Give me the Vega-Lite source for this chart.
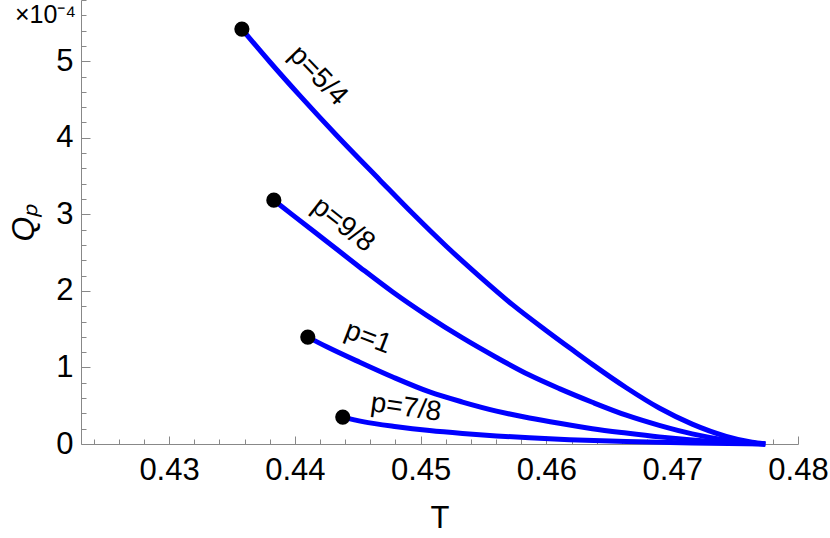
{
  "$schema": "https://vega.github.io/schema/vega-lite/v6.json",
  "width": 717,
  "height": 444,
  "autosize": "none",
  "padding": {"left": 81, "top": 0, "right": 32, "bottom": 94},
  "background": "white",
  "config": {"view": {"stroke": null}, "font": "Liberation Sans"},
  "datasets": {
    "curves": [
      {"p": "5/4", "T": 0.43579, "Q": 5.42},
      {"p": "5/4", "T": 0.43802, "Q": 4.99},
      {"p": "5/4", "T": 0.4404, "Q": 4.55},
      {"p": "5/4", "T": 0.44333, "Q": 4.03},
      {"p": "5/4", "T": 0.44675, "Q": 3.45},
      {"p": "5/4", "T": 0.44937, "Q": 3.01},
      {"p": "5/4", "T": 0.45206, "Q": 2.58},
      {"p": "5/4", "T": 0.45468, "Q": 2.19},
      {"p": "5/4", "T": 0.4573, "Q": 1.82},
      {"p": "5/4", "T": 0.46, "Q": 1.48},
      {"p": "5/4", "T": 0.46206, "Q": 1.23},
      {"p": "5/4", "T": 0.46365, "Q": 1.04},
      {"p": "5/4", "T": 0.46635, "Q": 0.735},
      {"p": "5/4", "T": 0.46897, "Q": 0.47},
      {"p": "5/4", "T": 0.47159, "Q": 0.26},
      {"p": "5/4", "T": 0.47429, "Q": 0.10},
      {"p": "5/4", "T": 0.47635, "Q": 0.022},
      {"p": "5/4", "T": 0.4774, "Q": 0},
      {"p": "9/8", "T": 0.43833, "Q": 3.185},
      {"p": "9/8", "T": 0.43984, "Q": 2.99},
      {"p": "9/8", "T": 0.44254, "Q": 2.645},
      {"p": "9/8", "T": 0.44516, "Q": 2.31},
      {"p": "9/8", "T": 0.44778, "Q": 1.985},
      {"p": "9/8", "T": 0.45048, "Q": 1.68},
      {"p": "9/8", "T": 0.45333, "Q": 1.385},
      {"p": "9/8", "T": 0.45603, "Q": 1.13},
      {"p": "9/8", "T": 0.45865, "Q": 0.90},
      {"p": "9/8", "T": 0.46103, "Q": 0.723},
      {"p": "9/8", "T": 0.46365, "Q": 0.545},
      {"p": "9/8", "T": 0.46635, "Q": 0.376},
      {"p": "9/8", "T": 0.46897, "Q": 0.243},
      {"p": "9/8", "T": 0.47159, "Q": 0.132},
      {"p": "9/8", "T": 0.47429, "Q": 0.05},
      {"p": "9/8", "T": 0.4774, "Q": 0},
      {"p": "1", "T": 0.44103, "Q": 1.397},
      {"p": "1", "T": 0.44254, "Q": 1.27},
      {"p": "1", "T": 0.44516, "Q": 1.068},
      {"p": "1", "T": 0.44778, "Q": 0.875},
      {"p": "1", "T": 0.45071, "Q": 0.68},
      {"p": "1", "T": 0.45333, "Q": 0.548},
      {"p": "1", "T": 0.45603, "Q": 0.43},
      {"p": "1", "T": 0.45865, "Q": 0.34},
      {"p": "1", "T": 0.46103, "Q": 0.27},
      {"p": "1", "T": 0.46365, "Q": 0.20},
      {"p": "1", "T": 0.46635, "Q": 0.143},
      {"p": "1", "T": 0.46897, "Q": 0.093},
      {"p": "1", "T": 0.47159, "Q": 0.053},
      {"p": "1", "T": 0.47429, "Q": 0.022},
      {"p": "1", "T": 0.4774, "Q": 0},
      {"p": "7/8", "T": 0.44381, "Q": 0.352},
      {"p": "7/8", "T": 0.4454, "Q": 0.292},
      {"p": "7/8", "T": 0.4481, "Q": 0.225},
      {"p": "7/8", "T": 0.45071, "Q": 0.175},
      {"p": "7/8", "T": 0.45333, "Q": 0.137},
      {"p": "7/8", "T": 0.45603, "Q": 0.105},
      {"p": "7/8", "T": 0.45865, "Q": 0.081},
      {"p": "7/8", "T": 0.46183, "Q": 0.057},
      {"p": "7/8", "T": 0.46635, "Q": 0.033},
      {"p": "7/8", "T": 0.47159, "Q": 0.013},
      {"p": "7/8", "T": 0.4774, "Q": 0}
    ],
    "ends": [
      {"p": "5/4", "T": 0.43579, "Q": 5.42},
      {"p": "9/8", "T": 0.43833, "Q": 3.185},
      {"p": "1", "T": 0.44103, "Q": 1.397},
      {"p": "7/8", "T": 0.44381, "Q": 0.352}
    ]
  },
  "resolve": {"axis": {"x": "independent", "y": "independent"}},
  "layer": [
    {
      "data": {"name": "curves"},
      "mark": {"type": "line", "color": "#0000ff", "strokeWidth": 5, "interpolate": "monotone", "clip": false},
      "encoding": {
        "x": {"field": "T", "type": "quantitative",
          "scale": {"domain": [0.423, 0.48], "nice": false, "zero": false},
          "axis": {"orient": "bottom", "values": [0.43, 0.44, 0.45, 0.46, 0.47, 0.48], "format": ".2f",
            "labelFontSize": 31, "labelColor": "black", "labelPadding": 11, "ticks": false,
            "domainColor": "#888888", "domainWidth": 1, "grid": false, "labelFlush": false, "labelOverlap": false,
            "title": "T", "titleFontSize": 31, "titleFontWeight": "normal", "titleColor": "black", "titlePadding": 18}},
        "y": {"field": "Q", "type": "quantitative",
          "scale": {"domain": [0, 5.8], "nice": false},
          "axis": {"orient": "left", "values": [0, 1, 2, 3, 4, 5], "format": "d",
            "labelFontSize": 31, "labelColor": "black", "labelPadding": 8, "ticks": false,
            "domainColor": "#888888", "domainWidth": 1, "grid": false, "labelFlush": false, "labelOverlap": false,
            "title": "Qₚ", "titleFontSize": 32, "titleFontWeight": "normal", "titleFontStyle": "italic", "titleColor": "black", "titlePadding": 15}},
        "detail": {"field": "p"}
      }
    },
    {
      "data": {"name": "ends"},
      "mark": {"type": "circle", "color": "black", "opacity": 1, "size": 230, "clip": false},
      "encoding": {
        "x": {"field": "T", "type": "quantitative",
          "scale": {"domain": [0.423, 0.48], "nice": false, "zero": false},
          "axis": {"orient": "bottom", "values": [0.43, 0.44, 0.45, 0.46, 0.47, 0.48], "labels": false, "domain": false,
            "tickSize": -8, "tickColor": "#888888", "tickWidth": 1, "grid": false, "title": null}},
        "y": {"field": "Q", "type": "quantitative",
          "scale": {"domain": [0, 5.8], "nice": false},
          "axis": {"orient": "left", "values": [0, 1, 2, 3, 4, 5], "labels": false, "domain": false,
            "tickSize": -9, "tickColor": "#888888", "tickWidth": 1, "grid": false, "title": null}}
      }
    },
    {
      "data": {"values": [{"label": "p=5/4", "T": 0.44184, "Q": 4.807}]},
      "mark": {"type": "text", "angle": 46, "fontSize": 28, "align": "center", "baseline": "middle", "color": "black"},
      "encoding": {
        "x": {"field": "T", "type": "quantitative",
          "axis": {"orient": "bottom", "values": [0.424, 0.426, 0.428, 0.432, 0.434, 0.436, 0.438, 0.442, 0.444, 0.446, 0.448, 0.452, 0.454, 0.456, 0.458, 0.462, 0.464, 0.466, 0.468, 0.472, 0.474, 0.476, 0.478],
            "labels": false, "domain": false, "tickSize": -5, "tickColor": "#888888", "tickWidth": 1, "grid": false, "title": null}},
        "y": {"field": "Q", "type": "quantitative",
          "axis": {"orient": "left", "values": [0.2, 0.4, 0.6, 0.8, 1.2, 1.4, 1.6, 1.8, 2.2, 2.4, 2.6, 2.8, 3.2, 3.4, 3.6, 3.8, 4.2, 4.4, 4.6, 4.8, 5.2, 5.4, 5.6, 5.8],
            "labels": false, "domain": false, "tickSize": -5, "tickColor": "#888888", "tickWidth": 1, "grid": false, "title": null}},
        "text": {"field": "label"}
      }
    },
    {
      "data": {"values": [{"label": "p=9/8", "T": 0.44383, "Q": 2.861}]},
      "mark": {"type": "text", "angle": 38, "fontSize": 28, "align": "center", "baseline": "middle", "color": "black"},
      "encoding": {
        "x": {"field": "T", "type": "quantitative", "axis": null},
        "y": {"field": "Q", "type": "quantitative", "axis": null},
        "text": {"field": "label"}
      }
    },
    {
      "data": {"values": [{"label": "p=1", "T": 0.44582, "Q": 1.385}]},
      "mark": {"type": "text", "angle": 21, "fontSize": 28, "align": "center", "baseline": "middle", "color": "black"},
      "encoding": {
        "x": {"field": "T", "type": "quantitative", "axis": null},
        "y": {"field": "Q", "type": "quantitative", "axis": null},
        "text": {"field": "label"}
      }
    },
    {
      "data": {"values": [{"label": "p=7/8", "T": 0.44884, "Q": 0.47}]},
      "mark": {"type": "text", "angle": 8, "fontSize": 28, "align": "center", "baseline": "middle", "color": "black"},
      "encoding": {
        "x": {"field": "T", "type": "quantitative", "axis": null},
        "y": {"field": "Q", "type": "quantitative", "axis": null},
        "text": {"field": "label"}
      }
    },
    {
      "data": {"values": [{"label": "×10⁻⁴", "T": 0.41775, "Q": 5.6}]},
      "mark": {"type": "text", "fontSize": 25, "align": "left", "baseline": "middle", "color": "black", "clip": false},
      "encoding": {
        "x": {"field": "T", "type": "quantitative", "axis": null},
        "y": {"field": "Q", "type": "quantitative", "axis": null},
        "text": {"field": "label"}
      }
    }
  ]
}
